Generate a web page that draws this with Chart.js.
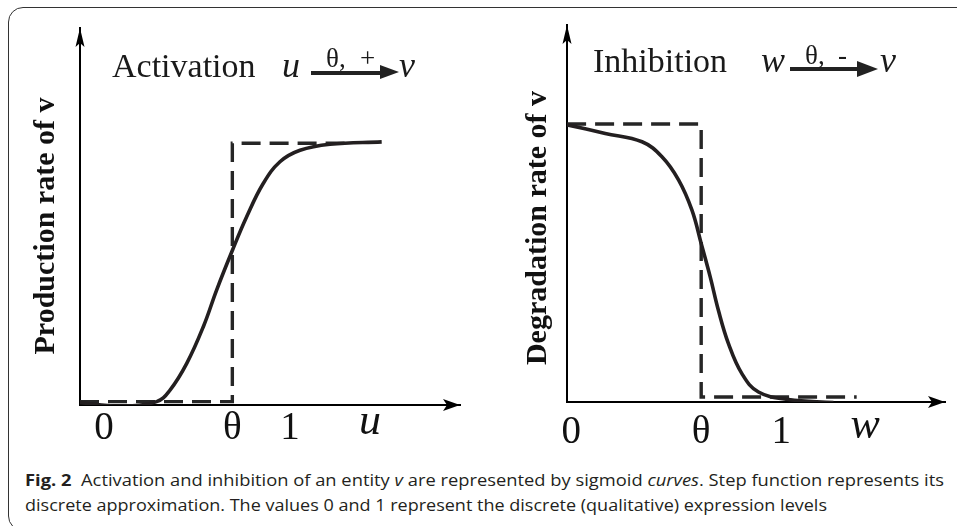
<!DOCTYPE html>
<html>
<head>
<meta charset="utf-8">
<script src="https://cdn.jsdelivr.net/npm/chart.js"></script>
<style>
  html, body { margin: 0; padding: 0; background: #fff; }
  body { width: 957px; height: 526px; position: relative; overflow: hidden; }
  .frame { position: absolute; left: 8px; top: 7px; width: 1000px; height: 522px;
           border: 1.5px solid #333; border-radius: 15px; }
  .panel { position: absolute; top: 0; height: 460px; }
  .t { position: absolute; line-height: 1; white-space: nowrap; color: #1a1a1a;
       font-family: "Liberation Serif", "Times New Roman", serif; }
  .it { font-style: italic; }
  .shaft { position: absolute; height: 4.5px; background: #222; }
  .head { position: absolute; width: 0; height: 0; border-style: solid; border-color: transparent transparent transparent #222; }
  .cap { position: absolute; left: 25px; line-height: 1; white-space: nowrap; color: #231f20;
         font-family: "Open Sans", "Noto Sans", sans-serif; font-size: 16.8px; transform-origin: 0 0; }
</style>
</head>
<body>
<div class="frame"></div>

<div class="panel" style="left:0;width:478px"><canvas id="actChart"></canvas></div>
<div class="panel" style="left:478px;width:479px"><canvas id="inhChart"></canvas></div>

<!-- reaction labels -->
<div class="t" style="left:112px;top:48.5px;font-size:34px">Activation</div>
<div class="t it" style="left:282px;top:47px;font-size:36px">u</div>
<div class="shaft" style="left:311px;top:70.5px;width:72px"></div>
<div class="head" style="left:380px;top:65px;border-width:7.5px 0 7.5px 19px"></div>
<div class="t" style="left:326px;top:45px;font-size:27px">θ,</div>
<div class="t" style="left:360px;top:45px;font-size:27px">+</div>
<div class="t it" style="left:399px;top:47px;font-size:36px">v</div>

<div class="t" style="left:593px;top:43.5px;font-size:34px">Inhibition</div>
<div class="t it" style="left:761px;top:42px;font-size:36px">w</div>
<div class="shaft" style="left:790px;top:66.5px;width:70px"></div>
<div class="head" style="left:857px;top:60.5px;border-width:8.5px 0 8.5px 21px"></div>
<div class="t" style="left:805px;top:42px;font-size:27px">θ,</div>
<div class="t" style="left:838px;top:42px;font-size:27px">-</div>
<div class="t it" style="left:880px;top:42px;font-size:36px">v</div>

<!-- caption -->
<div class="cap" id="cap1" style="top:472px"><b>Fig. 2</b>&nbsp;&nbsp;Activation and inhibition of an entity <i>v</i> are represented by sigmoid <i>curves</i>. Step function represents its</div>
<div class="cap" id="cap2" style="top:497px">discrete approximation. The values 0 and 1 represent the discrete (qualitative) expression levels</div>

<script>
// activation panel (x: input u, y: production rate of v)
const actCurveX = [-0.129, 0.086, 0.283, 0.355, 0.445, 0.534, 0.606, 0.690, 0.767, 0.856, 0.946, 1.054, 1.215, 1.493];
const actCurveY = [0.009, -0.004, 0.013, 0.057, 0.159, 0.299, 0.440, 0.590, 0.719, 0.846, 0.929, 0.973, 0.996, 1.005];
const actStepX = [-0.129, 0.69, 0.69, 1.30];
const actStepY = [0.013, 0.013, 1.0, 1.0];
const actTicks = [0, 0.69, 1, 1.43];
const actLabels = ['0', 'θ', '1', 'u'];

// inhibition panel (x: input w, y: degradation rate of v)
const inhCurveX = [-0.020, 0.162, 0.337, 0.432, 0.511, 0.575, 0.619, 0.662, 0.701, 0.749, 0.813, 0.892, 1.035, 1.249];
const inhCurveY = [0.997, 0.966, 0.936, 0.882, 0.799, 0.690, 0.570, 0.450, 0.330, 0.210, 0.102, 0.036, 0.009, -0.002];
const inhStepX = [-0.020, 0.619, 0.619, 1.36];
const inhStepY = [1.0, 1.0, 0.018, 0.018];
const inhTicks = [0, 0.619, 1, 1.40];
const inhLabels = ['0', 'θ', '1', 'w'];

const SERIF = '"Liberation Serif", "Times New Roman", serif';

const toPoints = (xs, ys) => xs.map((x, i) => ({x: x, y: ys[i]}));

// arrow heads on the axes + rotated y label
const axisDecor = {
  id: 'axisDecor',
  afterDraw(chart, args, opts) {
    const {ctx, chartArea: {left, right, top, bottom}} = chart;
    ctx.save();
    ctx.fillStyle = '#000';
    ctx.beginPath();
    ctx.moveTo(right, bottom);
    ctx.lineTo(right - 17, bottom - 6);
    ctx.lineTo(right - 13, bottom);
    ctx.lineTo(right - 17, bottom + 6);
    ctx.closePath();
    ctx.fill();
    ctx.beginPath();
    ctx.moveTo(left, top);
    ctx.lineTo(left - 4.5, top + 19);
    ctx.lineTo(left, top + 15);
    ctx.lineTo(left + 4.5, top + 19);
    ctx.closePath();
    ctx.fill();
    ctx.translate(opts.x, opts.y);
    ctx.rotate(-Math.PI / 2);
    ctx.font = 'bold 30px ' + SERIF;
    ctx.fillStyle = '#111';
    ctx.textAlign = 'center';
    ctx.textBaseline = 'middle';
    ctx.fillText(opts.text, 0, 0);
    ctx.restore();
  }
};

function makePanel(id, p) {
  return new Chart(document.getElementById(id), {
    type: 'line',
    data: {
      datasets: [
        {
          data: toPoints(p.curveX, p.curveY),
          borderColor: '#231f20',
          borderWidth: 3.6,
          pointRadius: 0,
          tension: 0.4
        },
        {
          data: toPoints(p.stepX, p.stepY),
          borderColor: '#262626',
          borderWidth: 3.4,
          borderDash: [19, 9],
          pointRadius: 0,
          tension: 0
        }
      ]
    },
    options: {
      responsive: true,
      maintainAspectRatio: false,
      animation: false,
      layout: { padding: p.padding },
      plugins: {
        legend: { display: false },
        tooltip: { enabled: false },
        axisDecor: { text: p.yTitle, x: p.titleX, y: p.titleY }
      },
      scales: {
        x: {
          type: 'linear',
          min: p.xMin, max: p.xMax,
          grid: { display: false, drawTicks: false },
          border: { display: true, color: '#000', width: 2 },
          afterBuildTicks: s => { s.ticks = p.ticks.map(v => ({value: v})); },
          afterFit: s => { s.height = 50; },
          ticks: {
            autoSkip: false,
            maxRotation: 0,
            padding: p.tickPad,
            color: '#111',
            callback: (v, i) => p.labels[i],
            font: c => (c.index === 3
              ? {family: SERIF, size: 44, style: 'italic', lineHeight: 0.8}
              : {family: SERIF, size: 39, lineHeight: 1.2})
          }
        },
        y: {
          type: 'linear',
          min: 0, max: p.yMax,
          grid: { display: false, drawTicks: false },
          border: { display: true, color: '#000', width: 2 },
          ticks: { display: false },
          afterFit: s => { s.width = p.yWidth; }
        }
      }
    },
    plugins: [axisDecor]
  });
}

document.addEventListener('DOMContentLoaded', () => {
  makePanel('actChart', {
    curveX: actCurveX, curveY: actCurveY, stepX: actStepX, stepY: actStepY,
    ticks: actTicks, labels: actLabels,
    xMin: -0.129, xMax: 1.914, yMax: 1.44,
    yWidth: 80, padding: {left: 0, right: 18, top: 28, bottom: 5},
    tickPad: 0,
    yTitle: 'Production rate of v', titleX: 46, titleY: 226
  });
  makePanel('inhChart', {
    curveX: inhCurveX, curveY: inhCurveY, stepX: inhStepX, stepY: inhStepY,
    ticks: inhTicks, labels: inhLabels,
    xMin: -0.0205, xMax: 1.781, yMax: 1.356,
    yWidth: 89, padding: {left: 0, right: 12, top: 25, bottom: 8},
    tickPad: 7,
    yTitle: 'Degradation rate of v', titleX: 60, titleY: 228
  });

  // squeeze caption lines to the width of the original typeset text
  const fit = (id, w) => {
    const el = document.getElementById(id);
    const cur = el.getBoundingClientRect().width;
    el.style.transform = `scaleX(${w / cur})`;
  };
  fit('cap1', 919);
  fit('cap2', 802);
});
</script>
</body>
</html>
